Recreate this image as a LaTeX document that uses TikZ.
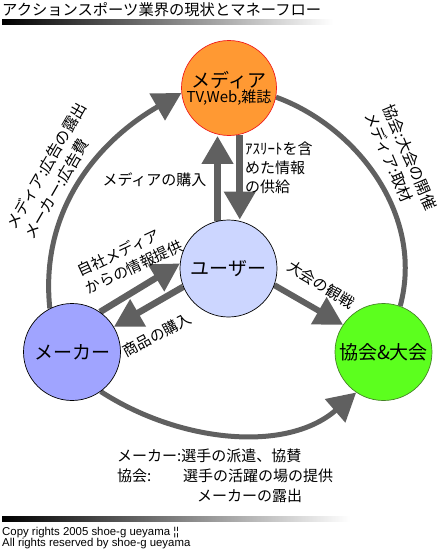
\documentclass[tikz,border=0pt]{standalone}
\usepackage{fontspec}
\setmainfont{Noto Sans CJK JP}
\newfontfamily\latinfont{Liberation Sans}
\usetikzlibrary{arrows.meta,backgrounds}
\definecolor{arrowgray}{RGB}{96,96,96}
\definecolor{mediafill}{RGB}{255,153,51}
\definecolor{mediaedge}{RGB}{240,30,30}
\definecolor{userfill}{RGB}{204,214,255}
\definecolor{makerfill}{RGB}{160,164,255}
\definecolor{kyokaifill}{RGB}{92,255,30}
\definecolor{kyokaiedge}{RGB}{70,130,40}
\begin{document}
\begin{tikzpicture}[x=1pt,y=1pt,
  jp/.style={font=\fontsize{15}{19}\selectfont, inner sep=0pt},
  hub/.style={circle, inner sep=0pt, minimum size=97pt, line width=0.7pt, align=center},
  arcline/.style={draw=arrowgray, line width=5pt},
  bigtip/.style={-{Triangle[length=28pt,width=30pt]}},
  arrline/.style={draw=arrowgray, line width=6.5pt, bigtip}]
\useasboundingbox (0,0) rectangle (441,-554);
% title and bars
\node[jp, anchor=west, font=\fontsize{15.3}{19}\selectfont] (title) at (2,-9.5) {アクションスポーツ業界の現状とマネーフロー};
\shade[left color=black, right color=white] (2,-19) rectangle (333,-24.5);
\shade[left color=black, right color=white] (2,-516) rectangle (350,-521);
% hubs
\node[hub, fill=mediafill, draw=mediaedge, minimum size=95pt] (media) at (229,-88)
  {\fontsize{19}{21}\selectfont メディア\\\fontsize{15}{17}\selectfont TV,Web,雑誌};
\node[hub, fill=userfill, draw=black] (user) at (228.5,-268.5)
  {\fontsize{19}{21}\selectfont ユーザー};
\node[hub, fill=makerfill, draw=black] (maker) at (72,-352)
  {\fontsize{19}{21}\selectfont メーカー};
\node[hub, fill=kyokaifill, draw=kyokaiedge] (kyokai) at (383.5,-352)
  {\fontsize{19}{21}\selectfont 協会\&大会};
% connectors
\begin{scope}[on background layer]
\draw[arcline, bigtip] (maker.117) .. controls +(96:100) and +(210:95) .. (media.186);
\draw[arcline] (media.-11) .. controls +(-20:85) and +(75:95) .. (kyokai.70);
\draw[arcline, bigtip] (maker.-54) .. controls +(-33:93) and +(221:93) .. (kyokai.236);
\draw[arrline, line width=7pt] (user.103) -- (user.103 |- media.south);
\draw[arrline, line width=7pt] (media.283) -- (media.283 |- user.north);
\draw[arrline] (maker.55) -- (user.174);
\draw[arrline] (user.202) -- (maker.31);
\draw[arrline, line width=6pt] (user.-20) -- (kyokai.146);
\end{scope}
% labels
\node[jp] (lbuy) at (154.5,-180) {メディアの購入};
\node[jp, anchor=west, align=left] (lsupply) at (245,-168) {ｱｽﾘｰﾄを含\\めた情報\\の供給};
\node[jp, rotate=25, align=left] (lown) at (130,-258) {自社メディア\\からの情報提供};
\node[jp, rotate=28] (lgoods) at (157,-335) {商品の購入};
\node[jp, rotate=-32] (lwatch) at (321,-285) {大会の観戦};
\node[jp, rotate=60, align=left, font=\fontsize{15.5}{20.5}\selectfont] (lad) at (55,-171)
  {メディア:広告の露出\\メーカー:広告費};
\node[jp, rotate=-67, align=left, font=\fontsize{15.5}{19.5}\selectfont] (lhost) at (401,-161)
  {協会:大会の開催\\メディア:取材};
\node[jp, anchor=north west, align=left, font=\fontsize{15}{20}\selectfont] (lnote) at (117,-449)
  {メーカー:選手の派遣、協賛\\\makebox[66pt][l]{協会:}選手の活躍の場の提供\\\hspace*{80pt}メーカーの露出};
\node[inner sep=0pt, anchor=north west, align=left, font=\latinfont\fontsize{11.4}{11}\selectfont] (copy) at (2,-527.5)
  {Copy rights 2005 shoe-g ueyama ¦¦\\All rights reserved by shoe-g ueyama};
\end{tikzpicture}
\end{document}
